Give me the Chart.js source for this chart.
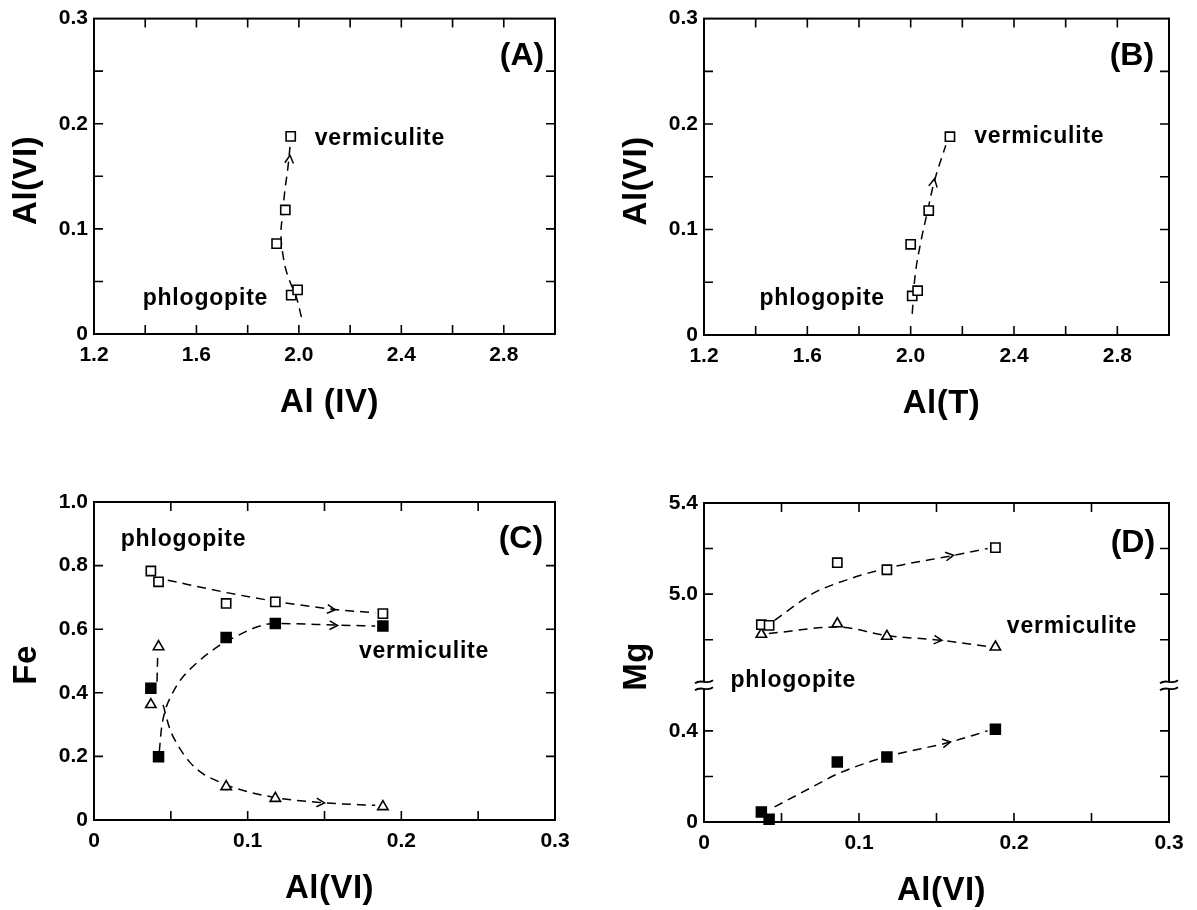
<!DOCTYPE html>
<html>
<head>
<meta charset="utf-8">
<script src="https://cdn.jsdelivr.net/npm/chart.js@4.4.1/dist/chart.umd.min.js"></script>
<style>
  html, body { margin: 0; padding: 0; background: #fff; }
  #wrap { position: relative; width: 1197px; height: 910px; }
  canvas { position: absolute; }
</style>
</head>
<body>
<div id="wrap">
  <canvas id="chartA" width="598" height="455" style="left:0;top:0"></canvas>
  <canvas id="chartB" width="599" height="455" style="left:598px;top:0"></canvas>
  <canvas id="chartC" width="598" height="455" style="left:0;top:455px"></canvas>
  <canvas id="chartD" width="599" height="455" style="left:598px;top:455px"></canvas>
</div>
<script>
// samples, ordered by increasing Al(VI)
var alVI = [0.037, 0.042, 0.086, 0.118, 0.188];
var alIV = [1.970, 1.995, 1.913, 1.947, 1.968];
var alT  = [2.006, 2.027, 2.000, 2.070, 2.152];

// Fe: open squares, filled squares, triangles
var feOpen   = [0.783, 0.749, 0.681, 0.686, 0.649];
var feFilled = [0.414, 0.199, 0.574, 0.618, 0.610];
var feTri    = [0.363, 0.545, 0.105, 0.068, 0.042];

// Mg: open squares, triangles, filled squares
var mgOpen   = [4.866, 4.863, 5.138, 5.107, 5.204];
var mgTri    = [4.824, null, 4.870, 4.815, 4.768];
var mgFilled = [0.044, 0.012, 0.263, 0.285, 0.407];

// hand drawn guide curves [x, y]
var guideA = [[2.010,0.016],[1.990,0.035],[1.957,0.055],[1.940,0.072],[1.930,0.095],[1.937,0.115],[1.945,0.136],[1.957,0.158],[1.966,0.180]];
var guideB = [[2.006,0.020],[2.018,0.058],[2.040,0.089],[2.066,0.118],[2.092,0.146],[2.136,0.180]];
var guideCopen   = [[0.048,0.754],[0.0865,0.715],[0.1175,0.688],[0.157,0.662],[0.183,0.652]];
var guideCfilled = [[0.0425,0.215],[0.0439,0.287],[0.046,0.339],[0.0504,0.392],[0.0569,0.444],[0.0688,0.502],[0.0786,0.539],[0.087,0.564],[0.1175,0.618],[0.158,0.613],[0.183,0.610]];
var guideClink   = [[0.041,0.435],[0.0415,0.525]];
var guideCtri    = [[0.045,0.362],[0.0493,0.287],[0.0547,0.234],[0.0623,0.182],[0.071,0.145],[0.0797,0.124],[0.087,0.108],[0.1175,0.071],[0.150,0.054],[0.183,0.046]];
var guideDopen   = [[0.0455,4.885],[0.070,5.002],[0.085,5.046],[0.117,5.112],[0.161,5.170],[0.183,5.200]];
var guideDtri    = [[0.0418,4.827],[0.0865,4.856],[0.117,4.819],[0.1535,4.797],[0.183,4.770]];
var guideDfilled = [[0.0455,0.066],[0.070,0.154],[0.0865,0.212],[0.117,0.285],[0.159,0.351],[0.183,0.400]];

// arrow heads [tailX, tailY, tipX, tipY]
var arrowsA = [[1.957,0.150,1.965,0.170]];
var arrowsB = [[2.078,0.130,2.092,0.148]];
var arrowsC = [[0.140,0.670,0.157,0.661],[0.140,0.614,0.1585,0.612],[0.132,0.058,0.150,0.054]];
var arrowsD = [[0.145,5.152,0.161,5.171],[0.137,4.808,0.1535,4.797],[0.140,0.330,0.159,0.351]];

// Mg axis is broken: upper part shifted down by 4.0
var mgOffset = 4.0;
var mgBreak = 0.6;
function mgAxis(v) { return v >= 4 ? v - mgOffset : v; }

function fmt(v) { return Math.abs(v) < 1e-9 ? '0' : v.toFixed(1); }
function every(step) {
  return function (v) {
    var k = v / step;
    return Math.abs(k - Math.round(k)) < 1e-6 ? fmt(v) : '';
  };
}
function mgLabel(v) {
  var shown = [0, 0.4, 1.0, 1.4];
  for (var i = 0; i < shown.length; i++) {
    if (Math.abs(v - shown[i]) < 1e-6) return v > mgBreak ? (v + mgOffset).toFixed(1) : fmt(v);
  }
  return '';
}

function pts(xs, ys, conv) {
  var out = [];
  for (var i = 0; i < xs.length; i++) {
    if (ys[i] === null) continue;
    out.push({ x: xs[i], y: conv ? conv(ys[i]) : ys[i] });
  }
  return out;
}
function curve(list, conv) {
  return list.map(function (p) { return { x: p[0], y: conv ? conv(p[1]) : p[1] }; });
}

function markers(data, style, filled) {
  return {
    data: data, showLine: false, clip: false,
    pointStyle: style, pointRadius: style === 'triangle' ? 6 : (filled ? 7 : 6.5),
    pointBorderWidth: 1.6, pointBorderColor: '#000',
    pointBackgroundColor: filled ? '#000' : '#fff'
  };
}
// smooth=true: x runs one way, so use monotone interpolation
function dashed(data, smooth) {
  var ds = {
    data: data, showLine: true, clip: false, fill: false,
    borderColor: '#000', borderWidth: 1.5, borderDash: [9, 6],
    pointRadius: 0, tension: 0.4
  };
  if (smooth) ds.cubicInterpolationMode = 'monotone';
  return ds;
}

var tickFont = { family: 'Liberation Sans', size: 21, weight: 'bold' };

function decor(cfg) {
  return {
    id: 'decor',
    afterDraw: function (chart) {
      var ctx = chart.ctx, a = chart.chartArea;
      var xs = chart.scales.x, ys = chart.scales.y;
      ctx.save();
      ctx.strokeStyle = '#000';
      ctx.lineWidth = 2;
      ctx.strokeRect(a.left, a.top, a.right - a.left, a.bottom - a.top);

      // inward ticks on all four sides
      var tl = 9;
      ctx.lineWidth = 1.6;
      ctx.beginPath();
      xs.ticks.forEach(function (t) {
        var px = xs.getPixelForValue(t.value);
        if (px <= a.left + 1 || px >= a.right - 1) return;
        ctx.moveTo(px, a.bottom); ctx.lineTo(px, a.bottom - tl);
        ctx.moveTo(px, a.top); ctx.lineTo(px, a.top + tl);
      });
      ys.ticks.forEach(function (t) {
        var py = ys.getPixelForValue(t.value);
        if (py <= a.top + 1 || py >= a.bottom - 1) return;
        if (cfg.breakAt !== undefined && Math.abs(t.value - cfg.breakAt) < 1e-6) return;
        ctx.moveTo(a.left, py); ctx.lineTo(a.left + tl, py);
        ctx.moveTo(a.right, py); ctx.lineTo(a.right - tl, py);
      });
      ctx.stroke();

      // axis break marks
      if (cfg.breakAt !== undefined) {
        var by = ys.getPixelForValue(cfg.breakAt);
        [a.left, a.right].forEach(function (bx) {
          ctx.fillStyle = '#fff';
          ctx.fillRect(bx - 3, by - 3, 6, 6);
          ctx.beginPath();
          [-3.5, 3.5].forEach(function (off) {
            ctx.moveTo(bx - 9, by + off + 1.5);
            ctx.bezierCurveTo(bx - 3, by + off - 3.5, bx + 3, by + off + 3.5, bx + 9, by + off - 1.5);
          });
          ctx.lineWidth = 1.8;
          ctx.stroke();
        });
      }

      // arrow heads
      ctx.lineWidth = 1.5;
      (cfg.arrows || []).forEach(function (ar) {
        var conv = cfg.yConv || function (v) { return v; };
        var x0 = xs.getPixelForValue(ar[0]), y0 = ys.getPixelForValue(conv(ar[1]));
        var x1 = xs.getPixelForValue(ar[2]), y1 = ys.getPixelForValue(conv(ar[3]));
        var ang = Math.atan2(y1 - y0, x1 - x0), len = 9, spread = 0.5;
        ctx.beginPath();
        ctx.moveTo(x1 - len * Math.cos(ang - spread), y1 - len * Math.sin(ang - spread));
        ctx.lineTo(x1, y1);
        ctx.lineTo(x1 - len * Math.cos(ang + spread), y1 - len * Math.sin(ang + spread));
        ctx.stroke();
      });

      // text labels in data units
      ctx.fillStyle = '#000';
      (cfg.labels || []).forEach(function (lb) {
        ctx.font = lb.big ? 'bold 32px "Liberation Sans"' : 'bold 23px "Liberation Sans"';
        ctx.letterSpacing = lb.big ? '0px' : '0.8px';
        ctx.textAlign = lb.big ? 'center' : 'left';
        ctx.textBaseline = lb.big ? 'middle' : 'alphabetic';
        ctx.fillText(lb.text, xs.getPixelForValue(lb.x), ys.getPixelForValue(lb.y));
      });

      // axis titles
      ctx.letterSpacing = '0.5px';
      ctx.font = 'bold 33px "Liberation Sans"';
      ctx.textAlign = 'center';
      ctx.textBaseline = 'middle';
      ctx.fillText(cfg.xTitle, (a.left + a.right) / 2 + 5, a.bottom + 69);
      ctx.save();
      ctx.translate(a.left - 67, (a.top + a.bottom) / 2 + 4);
      ctx.rotate(-Math.PI / 2);
      ctx.fillText(cfg.yTitle, 0, 0);
      ctx.restore();
      ctx.restore();
    }
  };
}

function makePanel(id, cfg) {
  new Chart(document.getElementById(id), {
    type: 'scatter',
    data: { datasets: cfg.datasets },
    options: {
      responsive: false,
      animation: false,
      events: [],
      layout: { padding: cfg.padding },
      plugins: { legend: { display: false }, tooltip: { enabled: false } },
      scales: {
        x: {
          type: 'linear', min: cfg.x[0], max: cfg.x[1],
          ticks: { stepSize: cfg.x[2], callback: cfg.xLabel, font: tickFont, color: '#000', padding: 9, maxRotation: 0, autoSkip: false },
          grid: { display: false, drawTicks: false },
          border: { display: false },
          afterFit: function (s) { s.height = cfg.xHeight; }
        },
        y: {
          type: 'linear', min: cfg.y[0], max: cfg.y[1],
          ticks: { stepSize: cfg.y[2], callback: cfg.yLabel, font: tickFont, color: '#000', padding: 6, autoSkip: false },
          grid: { display: false, drawTicks: false },
          border: { display: false },
          afterFit: function (s) { s.width = cfg.yWidth; }
        }
      }
    },
    plugins: [decor(cfg)]
  });
}

makePanel('chartA', {
  padding: { left: 0, top: 16, right: 43, bottom: 0 }, yWidth: 94, xHeight: 121,
  x: [1.2, 3.0, 0.2], xLabel: every(0.4),
  y: [0, 0.3, 0.05], yLabel: every(0.1),
  xTitle: 'Al (IV)', yTitle: 'Al(VI)',
  datasets: [markers(pts(alIV, alVI), 'rect', false), dashed(curve(guideA))],
  arrows: arrowsA,
  labels: [
    { text: 'vermiculite', x: 2.062, y: 0.1802 },
    { text: 'phlogopite', x: 1.39, y: 0.0274 },
    { text: '(A)', x: 2.871, y: 0.264, big: true }
  ]
});

makePanel('chartB', {
  padding: { left: 0, top: 16, right: 28, bottom: 0 }, yWidth: 106, xHeight: 120,
  x: [1.2, 3.0, 0.2], xLabel: every(0.4),
  y: [0, 0.3, 0.05], yLabel: every(0.1),
  xTitle: 'Al(T)', yTitle: 'Al(VI)',
  datasets: [markers(pts(alT, alVI), 'rect', false), dashed(curve(guideB))],
  arrows: arrowsB,
  labels: [
    { text: 'vermiculite', x: 2.246, y: 0.1818 },
    { text: 'phlogopite', x: 1.4146, y: 0.0282 },
    { text: '(B)', x: 2.8565, y: 0.2648, big: true }
  ]
});

makePanel('chartC', {
  padding: { left: 0, top: 47, right: 43, bottom: 0 }, yWidth: 94, xHeight: 90,
  x: [0, 0.3, 0.05], xLabel: every(0.1),
  y: [0, 1.0, 0.2], yLabel: every(0.2),
  xTitle: 'Al(VI)', yTitle: 'Fe',
  datasets: [
    markers(pts(alVI, feOpen), 'rect', false),
    markers(pts(alVI, feFilled), 'rect', true),
    markers(pts(alVI, feTri), 'triangle', false),
    dashed(curve(guideCopen), true),
    dashed(curve(guideCfilled), true),
    dashed(curve(guideClink)),
    dashed(curve(guideCtri), true)
  ],
  arrows: arrowsC,
  labels: [
    { text: 'phlogopite', x: 0.0174, y: 0.861 },
    { text: 'vermiculite', x: 0.1724, y: 0.509 },
    { text: '(C)', x: 0.2778, y: 0.884, big: true }
  ]
});

makePanel('chartD', {
  padding: { left: 0, top: 48, right: 28, bottom: 0 }, yWidth: 106, xHeight: 88,
  x: [0, 0.3, 0.05], xLabel: every(0.1),
  y: [0, 1.4, 0.2], yLabel: mgLabel,
  breakAt: mgBreak, yConv: mgAxis,
  xTitle: 'Al(VI)', yTitle: 'Mg',
  datasets: [
    markers(pts(alVI, mgOpen, mgAxis), 'rect', false),
    markers(pts(alVI, mgTri, mgAxis), 'triangle', false),
    markers(pts(alVI, mgFilled, mgAxis), 'rect', true),
    dashed(curve(guideDopen, mgAxis), true),
    dashed(curve(guideDtri, mgAxis), true),
    dashed(curve(guideDfilled, mgAxis), true)
  ],
  arrows: arrowsD,
  // label y in axis units (the phlogopite label sits in the break zone)
  labels: [
    { text: 'vermiculite', x: 0.1954, y: 0.828 },
    { text: 'phlogopite', x: 0.0171, y: 0.592 },
    { text: '(D)', x: 0.2767, y: 1.225, big: true }
  ]
});
</script>
</body>
</html>
